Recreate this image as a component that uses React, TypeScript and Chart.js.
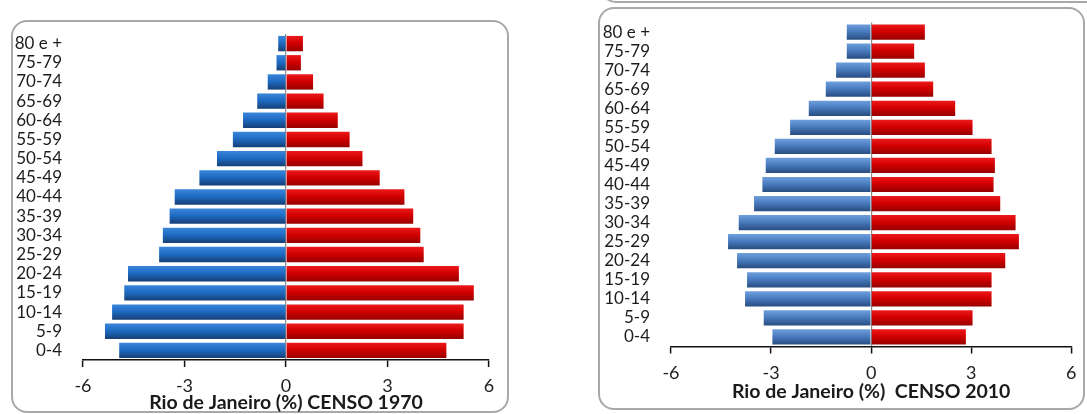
import React, { useEffect, useRef } from "react";
import { Chart, registerables } from "chart.js";

Chart.register(...registerables);

const ageGroups = ["80 e +", "75-79", "70-74", "65-69", "60-64", "55-59", "50-54", "45-49", "40-44", "35-39", "30-34", "25-29", "20-24", "15-19", "10-14", "5-9", "0-4"];

const men1970 = [-0.23, -0.28, -0.54, -0.85, -1.27, -1.57, -2.04, -2.56, -3.29, -3.44, -3.64, -3.75, -4.67, -4.78, -5.14, -5.35, -4.93];
const women1970 = [0.5, 0.44, 0.8, 1.11, 1.53, 1.88, 2.26, 2.77, 3.5, 3.76, 3.97, 4.07, 5.11, 5.55, 5.25, 5.25, 4.74];

const men2010 = [-0.73, -0.73, -1.05, -1.36, -1.87, -2.43, -2.89, -3.16, -3.26, -3.51, -3.97, -4.29, -4.02, -3.72, -3.78, -3.22, -2.96];
const women2010 = [1.61, 1.29, 1.61, 1.86, 2.52, 3.04, 3.61, 3.71, 3.67, 3.87, 4.33, 4.43, 4.02, 3.61, 3.61, 3.04, 2.84];

const xTickValues = [-6, -3, 0, 3, 6];

const FONT = "Lato, 'Open Sans', sans-serif";
const BAR_PCT = 0.8;

function gradientFill(top: string, mid: string, bot: string) {
  return (ctx: any) => {
    const chart = ctx.chart;
    const y = chart.scales && chart.scales.y;
    if (!y || ctx.type !== "data" || !isFinite(y.height) || y.height <= 0) return mid;
    const yc = y.getPixelForValue(ctx.dataIndex);
    const h = (y.height / ageGroups.length) * BAR_PCT;
    const g = chart.ctx.createLinearGradient(0, yc - h / 2, 0, yc + h / 2);
    g.addColorStop(0, top);
    g.addColorStop(0.45, mid);
    g.addColorStop(1, bot);
    return g;
  };
}

type PanelProps = {
  left: number;
  top: number;
  width: number;
  men: number[];
  women: number[];
  title: string;
  blue: [string, string, string];
  pad: { top: number; right: number; bottom: number };
  yWidth: number;
  xHeight: number;
};

function PyramidPanel(props: PanelProps) {
  const ref = useRef<HTMLCanvasElement | null>(null);
  useEffect(() => {
    if (!ref.current) return;
    const chart = new Chart(ref.current, {
      type: "bar",
      data: {
        labels: ageGroups,
        datasets: [
          {
            label: "Homens",
            data: props.men,
            backgroundColor: gradientFill(props.blue[0], props.blue[1], props.blue[2]) as any,
            borderWidth: 0,
            barPercentage: BAR_PCT,
            categoryPercentage: 1,
          },
          {
            label: "Mulheres",
            data: props.women,
            backgroundColor: gradientFill("#ec1a1a", "#d20000", "#980000") as any,
            borderWidth: 0,
            barPercentage: BAR_PCT,
            categoryPercentage: 1,
          },
        ],
      },
      options: {
        indexAxis: "y",
        responsive: false,
        animation: false,
        layout: { padding: { left: 0, top: props.pad.top, right: props.pad.right, bottom: props.pad.bottom } },
        plugins: { legend: { display: false }, tooltip: { enabled: false }, title: { display: false } },
        scales: {
          x: {
            stacked: true,
            min: -6,
            max: 6,
            afterBuildTicks: (scale: any) => {
              scale.ticks = xTickValues.map((v) => ({ value: v }));
            },
            afterFit: (scale: any) => {
              scale.height = props.xHeight;
            },
            ticks: {
              color: "#222",
              font: { family: FONT, size: 18, lineHeight: 1 },
              padding: 10.5,
              maxRotation: 0,
              autoSkip: false,
            },
            grid: {
              drawOnChartArea: true,
              color: (c: any) => (c.tick && c.tick.value === 0 ? "#8c8c8c" : "rgba(0,0,0,0)"),
              lineWidth: 1.2,
              tickColor: "#111",
              tickLength: 7,
              tickWidth: 1.5,
            },
            border: { display: true, color: "#111", width: 1.5 },
            title: {
              display: true,
              text: props.title,
              color: "#1a1a1a",
              font: { family: FONT, size: 19.5, weight: "bold", lineHeight: 1 },
              padding: { top: 0, bottom: 0 },
            },
          },
          y: {
            stacked: true,
            afterFit: (scale: any) => {
              scale.width = props.yWidth;
            },
            ticks: {
              color: "#1c1c1c",
              font: { family: FONT, size: 17, lineHeight: 1 },
              padding: 21,
              autoSkip: false,
            },
            grid: { display: false, drawTicks: false },
            border: { display: false },
          },
        },
      },
    });
    return () => chart.destroy();
  }, []);
  return (
    <canvas
      ref={ref}
      width={props.width}
      height={414}
      style={{ position: "absolute", left: props.left, top: props.top, width: props.width, height: 414 }}
    />
  );
}

const card = (left: number, top: number, width: number, height: number): React.CSSProperties => ({
  position: "absolute",
  left,
  top,
  width,
  height,
  boxSizing: "border-box",
  border: "2px solid #a8a8a8",
  borderRadius: 16,
  background: "#fff",
});

export default function App() {
  return (
    <div
      style={{
        position: "fixed",
        left: 0,
        top: 0,
        width: 1087,
        height: 414,
        overflow: "hidden",
        background: "#fff",
      }}
    >
      <div style={card(600, -30, 520, 33)} />
      <div style={card(11, 20, 498, 393)} />
      <div style={card(598, 7, 487, 403)} />
      <PyramidPanel
        left={0}
        top={0}
        width={540}
        men={men1970}
        women={women1970}
        title="Rio de Janeiro (%) CENSO 1970"
        blue={["#3a86da", "#1f6cc4", "#163f75"]}
        pad={{ top: 34, right: 51, bottom: 2 }}
        yWidth={83}
        xHeight={52}
      />
      <PyramidPanel
        left={540}
        top={-7}
        width={547}
        men={men2010}
        women={women2010}
        title="Rio de Janeiro (%)  CENSO 2010"
        blue={["#6f9fdc", "#4a7cc0", "#284d80"]}
        pad={{ top: 21, right: 9, bottom: 6 }}
        yWidth={131}
        xHeight={54.5}
      />
    </div>
  );
}
